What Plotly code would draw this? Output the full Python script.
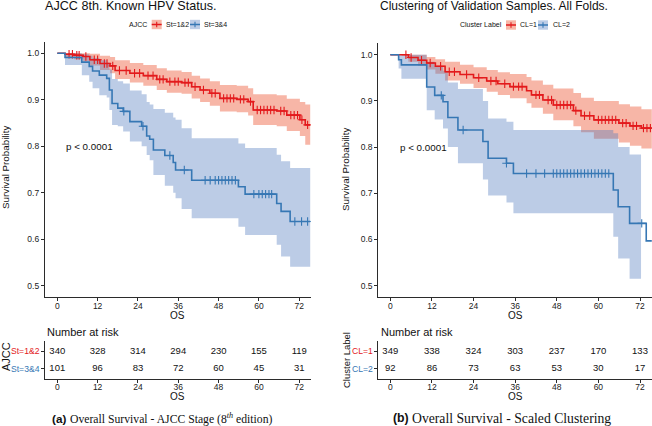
import numpy as np
import plotly.graph_objects as go

W, H = 652, 426

# ---------------- data : panel (a) AJCC stage ----------------
a_red_t  = [0, 2.3, 5.0, 7.7, 9.7, 12.7, 15.7, 17.2, 21.6, 25.6, 29.6, 32.6, 37.0, 40.0, 42.5, 45.4, 48.4, 53.4, 56.8, 58.3, 65.3, 68.3, 72.2, 73.8]
a_red_s  = [1.0, 0.998, 0.996, 0.993, 0.986, 0.978, 0.973, 0.963, 0.957, 0.952, 0.944, 0.939, 0.937, 0.928, 0.921, 0.914, 0.903, 0.901, 0.896, 0.878, 0.876, 0.867, 0.857, 0.846]
a_red_hi = [1.0, 1.0, 1.0, 1.0, 0.999, 0.995, 0.992, 0.985, 0.979, 0.975, 0.968, 0.963, 0.960, 0.952, 0.946, 0.940, 0.932, 0.930, 0.925, 0.912, 0.910, 0.902, 0.895, 0.890]
a_red_lo = [1.0, 0.990, 0.987, 0.983, 0.974, 0.964, 0.957, 0.945, 0.937, 0.930, 0.921, 0.915, 0.913, 0.903, 0.895, 0.887, 0.875, 0.873, 0.866, 0.846, 0.843, 0.833, 0.822, 0.803]
a_red_end = 75.3
a_red_cens = [3.5, 4.5, 5.8, 6.5, 8.5, 11, 12, 14, 14.8, 16.5, 18.5, 20.5, 23, 24.5, 27, 28.5, 30.5, 31.5, 33.5, 35, 36,
              38, 39, 41, 43.5, 46, 47, 49.5, 50.5, 51.5, 52.5, 54.5, 55.5, 57.5, 59.5, 60.5, 61.5, 62.5, 63.5, 64.5,
              66.5, 67.5, 69.5, 70.5, 71.5, 72.8, 74.5]

a_blue_t  = [0, 2.3, 7.3, 9.5, 10.5, 12.5, 14.7, 15.5, 16.3, 18.0, 19.6, 21.6, 25.1, 26.6, 27.5, 28.6, 32.0, 34.5, 35.2, 37.0, 40.0, 53.9, 55.9, 65.3, 66.6, 69.3]
a_blue_s  = [1.0, 0.991, 0.981, 0.972, 0.962, 0.953, 0.946, 0.921, 0.892, 0.882, 0.875, 0.853, 0.843, 0.822, 0.815, 0.792, 0.780, 0.765, 0.749, 0.749, 0.727, 0.713, 0.697, 0.677, 0.660, 0.638]
a_blue_hi = [1.0, 1.0, 0.998, 0.995, 0.990, 0.985, 0.980, 0.965, 0.945, 0.940, 0.935, 0.920, 0.912, 0.895, 0.890, 0.880, 0.872, 0.862, 0.857, 0.839, 0.817, 0.806, 0.796, 0.782, 0.768, 0.753]
a_blue_lo = [1.0, 0.975, 0.953, 0.939, 0.925, 0.910, 0.905, 0.878, 0.846, 0.843, 0.832, 0.810, 0.800, 0.781, 0.770, 0.738, 0.715, 0.700, 0.688, 0.665, 0.645, 0.627, 0.609, 0.588, 0.563, 0.541]
a_blue_end = 75.3
a_blue_cens = [19.8, 25.5, 33.5, 37.8, 44, 45.5, 47, 48, 49, 50, 51, 52, 53, 58.5, 60, 61, 62, 63, 63.8, 70.7, 72.7, 74.5]

a_risk_times = [0, 12, 24, 36, 48, 60, 72]
a_risk_red  = [340, 328, 314, 294, 230, 155, 119]
a_risk_blue = [101, 96, 83, 72, 60, 45, 31]

# ---------------- data : panel (b) clustering ----------------
b_red_t  = [0, 5.2, 8.0, 10.5, 13.0, 15.8, 20.1, 24.0, 27.8, 31.0, 34.5, 39.3, 40.7, 44.0, 47.0, 52.8, 55.0, 58.7, 65.9, 69.1, 72.4]
b_red_s  = [1.0, 0.994, 0.988, 0.982, 0.975, 0.963, 0.957, 0.950, 0.943, 0.937, 0.931, 0.922, 0.913, 0.902, 0.891, 0.879, 0.868, 0.859, 0.852, 0.846, 0.841]
b_red_hi = [1.0, 1.0, 1.0, 0.995, 0.990, 0.985, 0.978, 0.973, 0.967, 0.962, 0.958, 0.952, 0.944, 0.935, 0.927, 0.917, 0.907, 0.900, 0.893, 0.888, 0.882]
b_red_lo = [1.0, 0.985, 0.976, 0.968, 0.959, 0.944, 0.937, 0.928, 0.920, 0.913, 0.906, 0.895, 0.885, 0.872, 0.858, 0.845, 0.832, 0.818, 0.810, 0.803, 0.797]
b_red_end = 75.4
b_red_cens = [4.5, 6, 9, 11.5, 14.5, 17, 18.5, 22, 25.5, 29, 30.5, 33, 35.5, 37, 38, 42, 43, 45.5, 46.5, 48, 49, 50,
              51, 52, 53.5, 56, 57.5, 60, 61, 62, 63, 64, 65, 67, 68, 70, 71, 73, 74, 75]

b_blue_t  = [0, 2.4, 3.2, 10.5, 12.8, 15.2, 16.6, 19.5, 26.7, 28.2, 33.5, 35.5, 64.3, 65.7, 69.0, 73.8]
b_blue_s  = [1.0, 0.989, 0.978, 0.930, 0.912, 0.898, 0.864, 0.837, 0.812, 0.776, 0.765, 0.743, 0.707, 0.671, 0.635, 0.597]
b_blue_hi = [1.0, 1.0, 1.0, 0.985, 0.975, 0.965, 0.940, 0.926, 0.900, 0.862, 0.855, 0.837, 0.830, 0.800, 0.784]
b_blue_lo = [1.0, 0.970, 0.948, 0.880, 0.860, 0.840, 0.800, 0.765, 0.730, 0.695, 0.680, 0.657, 0.606, 0.559, 0.515]
b_blue_band_end = 72.3
b_blue_end = 75.4
b_blue_cens = [14.7, 21.0, 33.5, 39.3, 42, 44.5, 47, 48, 49, 50, 51, 52, 53, 54, 55, 56, 57, 58, 59, 60, 61, 62, 63, 72.5]

b_risk_times = [0, 12, 24, 36, 48, 60, 72]
b_risk_red  = [349, 338, 324, 303, 237, 170, 133]
b_risk_blue = [92, 86, 73, 63, 53, 30, 17]

# ---------------- styles ----------------
RED = "#E31A1C"
BLUE = "#3677B4"
RED_BAND = "rgba(240,110,80,0.5)"
BLUE_BAND = "rgba(80,120,190,0.38)"
AX = "#2b2b2b"
SANS = "Liberation Sans, Arial, sans-serif"
SERIF = "Liberation Serif, Times New Roman, serif"


def X(px):
    return px / W


def Y(py):
    return 1 - py / H


def stepped(t, s, end):
    return list(t) + [end], list(s) + [s[-1]]


def at(t, s, c):
    i = np.searchsorted(np.array(t), c, side="right") - 1
    return [s[k] for k in i]


fig = go.Figure()


def add_band(xa, ya, t, hi, lo, band_end, band):
    nb = len(hi)
    bx, blo = stepped(t[:nb], lo, band_end)
    _, bhi = stepped(t[:nb], hi, band_end)
    fig.add_trace(go.Scatter(x=bx, y=blo, mode="lines", line=dict(width=0, shape="hv"),
                             xaxis=xa, yaxis=ya, hoverinfo="skip"))
    fig.add_trace(go.Scatter(x=bx, y=bhi, mode="lines", line=dict(width=0, shape="hv"),
                             fill="tonexty", fillcolor=band, xaxis=xa, yaxis=ya, hoverinfo="skip"))


def add_line(xa, ya, t, s, end, cens, color):
    lx, ly = stepped(t, s, end)
    fig.add_trace(go.Scatter(x=lx, y=ly, mode="lines", line=dict(color=color, width=1.6, shape="hv"),
                             xaxis=xa, yaxis=ya))
    fig.add_trace(go.Scatter(x=cens, y=at(t, s, cens), mode="markers",
                             marker=dict(symbol="cross-thin", size=6, line=dict(color=color, width=1.1)),
                             xaxis=xa, yaxis=ya))


# panel a
add_band("x", "y", a_red_t, a_red_hi, a_red_lo, a_red_end, RED_BAND)
add_band("x", "y", a_blue_t, a_blue_hi, a_blue_lo, a_blue_end, BLUE_BAND)
add_line("x", "y", a_red_t, a_red_s, a_red_end, a_red_cens, RED)
add_line("x", "y", a_blue_t, a_blue_s, a_blue_end, a_blue_cens, BLUE)
# panel b
add_band("x3", "y3", b_red_t, b_red_hi, b_red_lo, b_red_end, RED_BAND)
add_band("x3", "y3", b_blue_t, b_blue_hi, b_blue_lo, b_blue_band_end, BLUE_BAND)
add_line("x3", "y3", b_red_t, b_red_s, b_red_end, b_red_cens, RED)
add_line("x3", "y3", b_blue_t, b_blue_s, b_blue_end, b_blue_cens, BLUE)

# risk tables
for xa, ya, times, r1, r2 in [("x2", "y2", a_risk_times, a_risk_red, a_risk_blue),
                              ("x4", "y4", b_risk_times, b_risk_red, b_risk_blue)]:
    fig.add_trace(go.Scatter(x=times, y=[2] * len(times), mode="text", text=[str(v) for v in r1],
                             textfont=dict(size=9.5, color="#111", family=SANS), xaxis=xa, yaxis=ya))
    fig.add_trace(go.Scatter(x=times, y=[1] * len(times), mode="text", text=[str(v) for v in r2],
                             textfont=dict(size=9.5, color="#111", family=SANS), xaxis=xa, yaxis=ya))

xticks = [0, 12, 24, 36, 48, 60, 72]
yticks = [0.5, 0.6, 0.7, 0.8, 0.9, 1.0]
common = dict(showline=True, linecolor=AX, linewidth=1.2, ticks="outside", ticklen=3, tickwidth=1,
              tickcolor=AX, showgrid=False, zeroline=False, tickfont=dict(size=8.5, color="#222", family=SANS))
xcommon = dict(ticklabelstandoff=-3, **common)

# panel geometry (pixels)
A_X0, A_X1 = 45.0, 310.7
B_X0, B_X1 = 378.3, 652.0
A_KM_T, A_KM_B = 41.7, 297.3
B_KM_T, B_KM_B = 43.15, 297.25
RT_T, RT_B = 341.0, 379.0

fig.update_layout(
    width=W, height=H, margin=dict(l=0, r=0, t=0, b=0), showlegend=False,
    paper_bgcolor="white", plot_bgcolor="white",
    xaxis=dict(domain=[X(A_X0), X(A_X1)], range=[-3.66, 75.42], tickvals=xticks, anchor="y", **xcommon),
    yaxis=dict(domain=[Y(A_KM_B), Y(A_KM_T)], range=[0.475, 1.025], tickvals=yticks,
               ticktext=["0.5", "0.6", "0.7", "0.8", "0.9", "1.0"], anchor="x", **common),
    xaxis2=dict(domain=[X(A_X0), X(A_X1)], range=[-3.66, 75.42], tickvals=xticks, anchor="y2", **xcommon),
    yaxis2=dict(domain=[Y(RT_B), Y(RT_T)], range=[0.4, 2.6], tickvals=[1, 2], showticklabels=False,
                anchor="x2", **common),
    xaxis3=dict(domain=[X(B_X0), X(B_X1)], range=[-3.46, 75.46], tickvals=xticks, anchor="y3", **xcommon),
    yaxis3=dict(domain=[Y(B_KM_B), Y(B_KM_T)], range=[0.475, 1.025], tickvals=yticks,
                ticktext=["0.5", "0.6", "0.7", "0.8", "0.9", "1.0"], anchor="x3", **common),
    xaxis4=dict(domain=[X(B_X0), X(B_X1)], range=[-3.46, 75.46], tickvals=xticks, anchor="y4", **xcommon),
    yaxis4=dict(domain=[Y(RT_B), Y(RT_T)], range=[0.4, 2.6], tickvals=[1, 2], showticklabels=False,
                anchor="x4", **common),
)

ann = []


def txt(text, px, py, size, xanchor="left", color="#111", family=SANS, angle=0):
    ann.append(dict(text=text, x=X(px), y=Y(py), xref="paper", yref="paper", xanchor=xanchor,
                    yanchor="middle", showarrow=False, textangle=angle,
                    font=dict(size=size, color=color, family=family)))


# titles
txt("AJCC 8th. Known HPV Status.", 43, 5.5, 12.6)
txt("Clustering of Validation Samples. All Folds.", 378, 5.5, 12)
# legends
txt("AJCC", 149, 24.5, 7, xanchor="right")
txt("St=1&2", 163.5, 24.5, 7)
txt("St=3&4", 202, 24.5, 7)
txt("Cluster Label", 504, 25, 7, xanchor="right")
txt("CL=1", 518, 25, 7)
txt("CL=2", 550.5, 25, 7)
# axis titles
txt("Survival Probability", 6, 168, 9.8, xanchor="center", angle=-90)
txt("Survival Probability", 345, 170, 9.8, xanchor="center", angle=-90)
txt("OS", (A_X0 + A_X1) / 2, 315.5, 10, xanchor="center")
txt("OS", (B_X0 + B_X1) / 2, 315.5, 10, xanchor="center")
txt("OS", (A_X0 + A_X1) / 2, 396.7, 10, xanchor="center")
txt("OS", (B_X0 + B_X1) / 2, 396.7, 10, xanchor="center")
# risk table
txt("Number at risk", 45, 331.5, 11)
txt("Number at risk", 378.5, 331.5, 11)
txt("AJCC", 6, 357, 11, xanchor="center", angle=-90)
txt("Cluster Label", 346, 360, 9.5, xanchor="center", angle=-90)
txt("St=1&2", 41.7, 351.3, 8.6, xanchor="right", color=RED)
txt("St=3&4", 41.7, 368.6, 8.6, xanchor="right", color=BLUE)
txt("CL=1", 375.0, 351.3, 8.6, xanchor="right", color=RED)
txt("CL=2", 375.0, 368.6, 8.6, xanchor="right", color=BLUE)
# captions
txt("<b>(a)</b>", 49.5, 418, 11.7)
txt("Overall Survival - AJCC Stage (8<sup><i>th</i></sup> edition)", 67.5, 418, 11.7, family=SERIF)
txt("<b>(b)</b>", 391, 418, 12.3)
txt("Overall Survival - Scaled Clustering", 410, 418, 13.7, family=SERIF)

# p-values (data coordinates)
ann.append(dict(text="p < 0.0001", x=2.0, y=0.8, xref="x", yref="y", xanchor="left", yanchor="middle",
                showarrow=False, font=dict(size=9.8, color="#111", family=SANS)))
ann.append(dict(text="p < 0.0001", x=2.3, y=0.8, xref="x3", yref="y3", xanchor="left", yanchor="middle",
                showarrow=False, font=dict(size=9.8, color="#111", family=SANS)))
fig.update_layout(annotations=ann)

# legend keys
shapes = []


def key(px0, py, line_color, fill):
    shapes.append(dict(type="rect", xref="paper", yref="paper", x0=X(px0), x1=X(px0 + 10),
                       y0=Y(py + 4.7), y1=Y(py - 4.7), fillcolor=fill, line=dict(width=0)))
    shapes.append(dict(type="line", xref="paper", yref="paper", x0=X(px0), x1=X(px0 + 10),
                       y0=Y(py), y1=Y(py), line=dict(color=line_color, width=1.5)))
    shapes.append(dict(type="line", xref="paper", yref="paper", x0=X(px0 + 5), x1=X(px0 + 5),
                       y0=Y(py - 2.8), y1=Y(py + 2.8), line=dict(color=line_color, width=1.1)))


key(151.7, 24.5, RED, RED_BAND)
key(190.0, 24.5, BLUE, BLUE_BAND)
key(506.0, 25, RED, RED_BAND)
key(538.0, 25, BLUE, BLUE_BAND)
fig.update_layout(shapes=shapes)

fig.write_html("out.html", config={"displayModeBar": False},
               post_script="document.body.style.margin='0';document.body.style.overflow='hidden';")
